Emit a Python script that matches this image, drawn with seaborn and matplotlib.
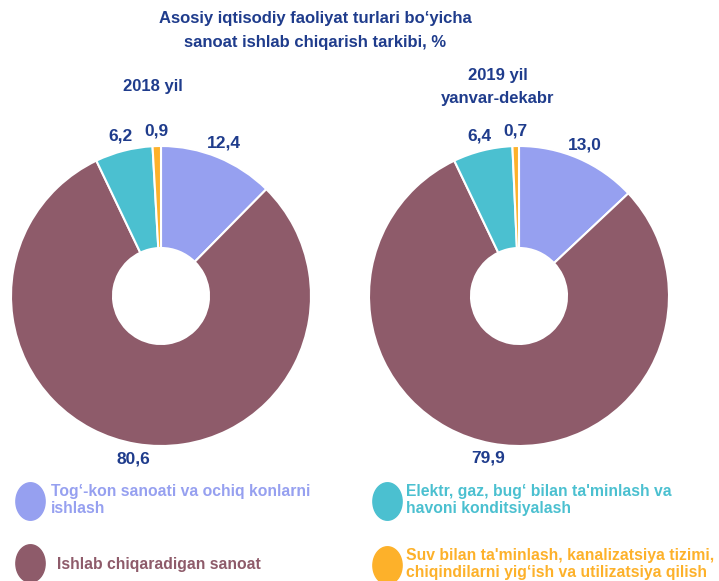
import matplotlib.pyplot as plt
import numpy as np
import seaborn as sns
from matplotlib.lines import Line2D
from matplotlib.path import Path

sns.set_theme(style='white')
plt.rcParams['font.family'] = ['Liberation Sans', 'DejaVu Sans']

# ma'lumotlar
categories = ["Tog\u2018-kon sanoati va ochiq konlarni\nishlash",
              "Ishlab chiqaradigan sanoat",
              "Elektr, gaz, bug\u2018 bilan ta'minlash va\nhavoni konditsiyalash",
              "Suv bilan ta'minlash, kanalizatsiya tizimi,\nchiqindilarni yig\u2018ish va utilizatsiya qilish"]
vals_2018 = [12.4, 80.6, 6.2, 0.9]
vals_2019 = [13.0, 79.9, 6.4, 0.7]
titles = ['2018 yil', '2019 yil\nyanvar-dekabr']
colors = sns.color_palette(['#96A0F0', '#8E5B6A', '#4BC0D0', '#FDB12A'])
navy = '#1F3C8C'

fig = plt.figure(figsize=(7.19, 5.81), dpi=100)
W, H = 719, 581

def donut(ax, vals):
    wedges, texts = ax.pie(vals, colors=colors, startangle=90, counterclock=False,
                           labels=[f'{v:.1f}'.replace('.', ',') for v in vals],
                           labeldistance=1.1,
                           wedgeprops=dict(width=0.68, edgecolor='white', linewidth=1.5),
                           textprops=dict(color=navy, fontsize=12.5, fontweight='bold'))
    for t in texts:
        t.set_ha('center')
        t.set_va('center')
    ax.set_xlim(-1, 1)
    ax.set_ylim(-1, 1)
    ax.set_aspect('equal')

ax1 = fig.add_axes([11 / W, 135 / H, 300 / W, 300 / H])
ax2 = fig.add_axes([369 / W, 135 / H, 300 / W, 300 / H])
donut(ax1, vals_2018)
donut(ax2, vals_2019)

fig.text(315 / W, 1 - 31 / H, "Asosiy iqtisodiy faoliyat turlari bo\u2018yicha\nsanoat ishlab chiqarish tarkibi, %",
         ha='center', va='center', color=navy, fontsize=12, fontweight='bold', linespacing=1.75)
fig.text(153 / W, 1 - 86 / H, titles[0], ha='center', va='center', color=navy,
         fontsize=12, fontweight='bold')
fig.text(498 / W, 1 - 87 / H, titles[1], ha='center', va='center', color=navy,
         fontsize=12, fontweight='bold', linespacing=1.6)

# legend: har bir element alohida (ellips marker)
th = np.linspace(0, 2 * np.pi, 60)
ell = Path(np.column_stack([0.78 * np.cos(th), np.sin(th)]), closed=True)
anchors = [(12, 500), (12, 564), (369, 500), (369, 564)]
pads = [0.2, 0.55, 0.05, 0.05]
for lab, c, (x, y), p in zip(categories, colors, anchors, pads):
    h = Line2D([], [], marker=ell, linestyle='', markersize=27,
               markerfacecolor=c, markeredgecolor=c)
    leg = fig.legend([h], [lab], loc='center left', bbox_to_anchor=(x / W, 1 - y / H),
                     frameon=False, prop=dict(size=11.3, weight='bold'),
                     handletextpad=p, handlelength=2.3, borderpad=0, borderaxespad=0)
    leg.get_texts()[0].set_color(c)

fig.savefig('out.png', dpi=100)
